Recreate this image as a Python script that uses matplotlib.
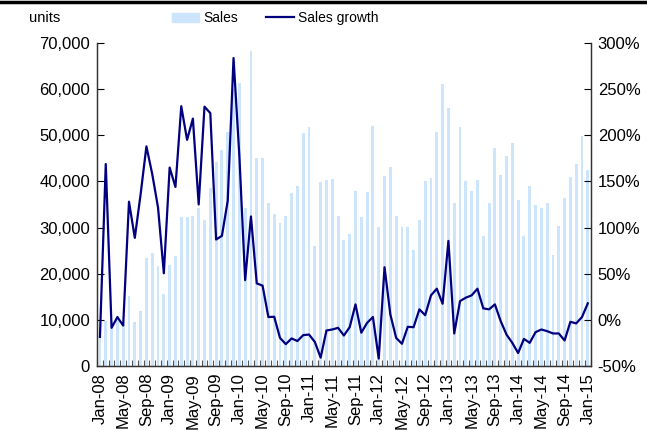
import numpy as np
import matplotlib
matplotlib.use("Agg")
import matplotlib.pyplot as plt
from matplotlib.ticker import FuncFormatter, MultipleLocator, FixedLocator
from matplotlib.lines import Line2D

plt.rcParams["font.family"] = ["Liberation Sans", "DejaVu Sans"]

# monthly data, Jan-08 .. Jan-15
months = [f"{m}-{y:02d}" for y in range(8, 16)
          for m in ["Jan", "Feb", "Mar", "Apr", "May", "Jun",
                    "Jul", "Aug", "Sep", "Oct", "Nov", "Dec"]][:85]

sales = [
    8300, 9800, 9700, 10800, 9100, 15200, 9600, 11800, 23500, 24400, 21700, 15600,
    21900, 23800, 32200, 32200, 32600, 34200, 31700, 38500, 44100, 46700, 50600, 60000,
    61400, 34200, 68300, 45100, 45000, 35400, 33000, 30900, 32600, 37400, 39100, 50400,
    51700, 26100, 39800, 40200, 40600, 32400, 27200, 28500, 38000, 32200, 37800, 52000,
    30100, 41100, 43100, 32500, 30100, 30100, 25100, 31700, 40100, 40700, 50700, 61200,
    55900, 35400, 51900, 40100, 38000, 40200, 28100, 35400, 47200, 41400, 45400, 48300,
    35900, 28200, 39100, 34800, 34300, 35400, 24000, 30300, 36300, 40900, 43800, 49800,
    42400,
]

growth = [
    -18.5, 168.8, -8.7, 2.9, -6.2, 128.0, 88.8, 136.0, 188.0, 158.0, 121.7, 50.4,
    165.0, 144.0, 231.5, 195.0, 218.0, 125.0, 231.0, 224.0, 87.0, 91.0, 129.0, 283.7,
    178.0, 43.0, 112.0, 39.5, 37.0, 3.0, 3.3, -19.6, -26.4, -20.2, -23.0, -16.6,
    -16.0, -24.0, -41.0, -11.6, -10.5, -8.7, -17.0, -8.0, 16.7, -14.0, -3.3, 3.0,
    -42.0, 57.0, 5.8, -19.6, -26.0, -7.6, -8.0, 11.3, 5.0, 26.5, 33.7, 17.4,
    85.5, -14.8, 20.3, 24.0, 26.5, 33.7, 12.4, 11.3, 16.7, -1.4, -16.0, -25.0,
    -36.0, -20.7, -25.0, -13.4, -10.5, -12.3, -14.8, -14.8, -22.4, -2.2, -3.9, 3.0,
    17.8,
]

bar_color = "#CCE5FD"
line_color = "#000080"

fig = plt.figure(figsize=(6.47, 4.30), dpi=100)
ax = fig.add_axes([0.150, 0.149, 0.763, 0.751])
ax2 = ax.twinx()

x = np.arange(len(months))
ax.bar(x, sales, width=0.5, color=bar_color, zorder=1)
ax2.plot(x, growth, color=line_color, lw=1.6, zorder=3)

ax.set_xlim(-0.5, len(months) - 0.5)
ax.set_ylim(0, 70000)
ax2.set_ylim(-50, 300)

ax.yaxis.set_major_locator(MultipleLocator(10000))
ax.yaxis.set_major_formatter(FuncFormatter(lambda v, p: f"{int(v):,}"))
ax2.yaxis.set_major_locator(MultipleLocator(50))
ax2.yaxis.set_major_formatter(FuncFormatter(lambda v, p: f"{int(v)}%"))

# labels every 4 months, ticks on month boundaries
ax.xaxis.set_major_locator(FixedLocator(x[::4]))
ax.set_xticklabels(months[::4], rotation=90)
ax.xaxis.set_minor_locator(FixedLocator(np.arange(-0.5, len(months), 1)))
ax.tick_params(axis="x", which="major", length=0, pad=5, labelsize=12)
ax.tick_params(axis="x", which="minor", direction="in", length=4, width=0.8,
               color="#555555")
ax.tick_params(axis="y", direction="in", length=5, labelsize=12, pad=5)
ax2.tick_params(axis="y", direction="in", length=5, labelsize=12, pad=5)

for a in (ax, ax2):
    a.spines["top"].set_visible(False)
    for s in ("left", "right", "bottom"):
        a.spines[s].set_color("#333333")
        a.spines[s].set_linewidth(0.9)

ax.set_zorder(ax2.get_zorder() - 1)
ax.patch.set_visible(True)
ax2.patch.set_visible(False)

fig.text(0.045, 0.958, "units", fontsize=10.5, va="center", ha="left")

handles = [plt.Rectangle((0, 0), 1, 1, color=bar_color),
           Line2D([], [], color=line_color, lw=1.6)]
fig.legend(handles, ["Sales", "Sales growth"], loc="center",
           bbox_to_anchor=(0.425, 0.958), ncol=2, frameon=False, fontsize=10,
           handlelength=2.0, handleheight=0.6, handletextpad=0.3,
           columnspacing=2.0)

# thick rule along the top edge
fig.add_artist(Line2D([0, 1], [0.996, 0.996], color="black", lw=2.5,
                      transform=fig.transFigure))

fig.savefig("out.png", dpi=100)
